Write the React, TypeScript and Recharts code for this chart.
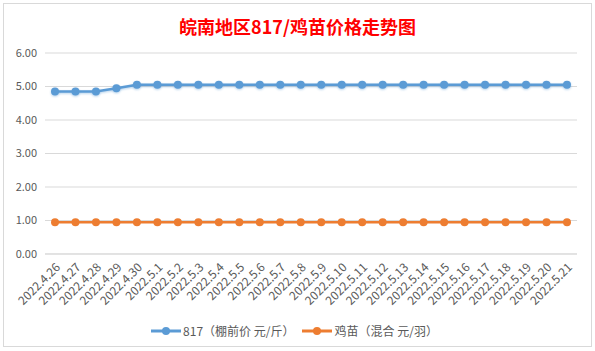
import React from "react";
import { LineChart, Line, XAxis, YAxis, CartesianGrid, Legend } from "recharts";

const dates = [
  "2022.4.26", "2022.4.27", "2022.4.28", "2022.4.29", "2022.4.30",
  "2022.5.1", "2022.5.2", "2022.5.3", "2022.5.4", "2022.5.5",
  "2022.5.6", "2022.5.7", "2022.5.8", "2022.5.9", "2022.5.10",
  "2022.5.11", "2022.5.12", "2022.5.13", "2022.5.14", "2022.5.15",
  "2022.5.16", "2022.5.17", "2022.5.18", "2022.5.19", "2022.5.20",
  "2022.5.21",
];

const price817 = [
  4.85, 4.85, 4.85, 4.95, 5.05, 5.05, 5.05, 5.05, 5.05, 5.05, 5.05, 5.05, 5.05,
  5.05, 5.05, 5.05, 5.05, 5.05, 5.05, 5.05, 5.05, 5.05, 5.05, 5.05, 5.05, 5.05,
];

const chickPrice = [
  0.95, 0.95, 0.95, 0.95, 0.95, 0.95, 0.95, 0.95, 0.95, 0.95, 0.95, 0.95, 0.95,
  0.95, 0.95, 0.95, 0.95, 0.95, 0.95, 0.95, 0.95, 0.95, 0.95, 0.95, 0.95, 0.95,
];

const yTicks = [0, 1, 2, 3, 4, 5, 6];

const seriesNames = ["817（棚前价 元/斤）", "鸡苗（混合 元/羽）"];
const seriesColors = ["#5B9BD5", "#ED7D31"];

const data = dates.map((d, i) => ({
  date: d,
  a: price817[i],
  b: chickPrice[i],
}));

const FONT = "'Noto Sans CJK SC', 'Noto Sans', sans-serif";

function LegendContent() {
  return (
    <div
      style={{
        display: "flex",
        justifyContent: "center",
        gap: 8,
        fontFamily: FONT,
        fontSize: 12,
        color: "#595959",
        paddingLeft: 12,
      }}
    >
      {seriesNames.map((name, i) => (
        <div key={name} style={{ display: "flex", alignItems: "center" }}>
          <svg width={30} height={10} style={{ marginRight: 2 }}>
            <line x1={0} y1={5} x2={30} y2={5} stroke={seriesColors[i]} strokeWidth={3} />
            <circle cx={15} cy={5} r={4} fill={seriesColors[i]} />
          </svg>
          <span>{name}</span>
        </div>
      ))}
    </div>
  );
}

export default function App() {
  return (
    <div
      style={{
        position: "absolute",
        left: 0,
        top: 0,
        width: 595,
        height: 351,
        background: "#ffffff",
      }}
    >
      <div
        style={{
          position: "absolute",
          left: 3,
          top: 3,
          width: 589,
          height: 344,
          border: "1px solid #D9D9D9",
          boxSizing: "border-box",
        }}
      />
      <div
        style={{
          position: "absolute",
          left: 0,
          top: 13,
          width: 595,
          textAlign: "center",
          fontFamily: FONT,
          fontSize: 18,
          fontWeight: "bold",
          color: "#FF0000",
        }}
      >
        皖南地区817/鸡苗价格走势图
      </div>
      <div style={{ position: "absolute", left: 0, top: 0 }}>
        <LineChart
          width={595}
          height={351}
          data={data}
          margin={{ top: 53, right: 18, left: 0, bottom: 12 }}
        >
          <CartesianGrid vertical={false} stroke="#D9D9D9" />
          <XAxis
            dataKey="date"
            interval={0}
            angle={-45}
            textAnchor="end"
            height={68}
            padding={{ left: 10, right: 10 }}
            tickLine={false}
            axisLine={{ stroke: "#D9D9D9" }}
            tick={{ fontSize: 12, fill: "#595959", fontFamily: FONT }}
            tickMargin={2}
          />
          <YAxis
            domain={[0, 6]}
            ticks={yTicks}
            width={45}
            axisLine={false}
            tickLine={false}
            tickFormatter={(v: number) => v.toFixed(2)}
            tick={{ fontSize: 11, fill: "#595959", fontFamily: FONT }}
          />
          <Legend verticalAlign="bottom" content={<LegendContent />} />
          <Line
            dataKey="a"
            name={seriesNames[0]}
            stroke={seriesColors[0]}
            strokeWidth={2.5}
            dot={{ r: 4, fill: seriesColors[0], stroke: seriesColors[0], strokeWidth: 0 }}
            isAnimationActive={false}
            style={{ filter: "drop-shadow(0px 1px 1px rgba(91,155,213,0.45))" }}
          />
          <Line
            dataKey="b"
            name={seriesNames[1]}
            stroke={seriesColors[1]}
            strokeWidth={2.5}
            dot={{ r: 4, fill: seriesColors[1], stroke: seriesColors[1], strokeWidth: 0 }}
            isAnimationActive={false}
          />
        </LineChart>
      </div>
    </div>
  );
}
